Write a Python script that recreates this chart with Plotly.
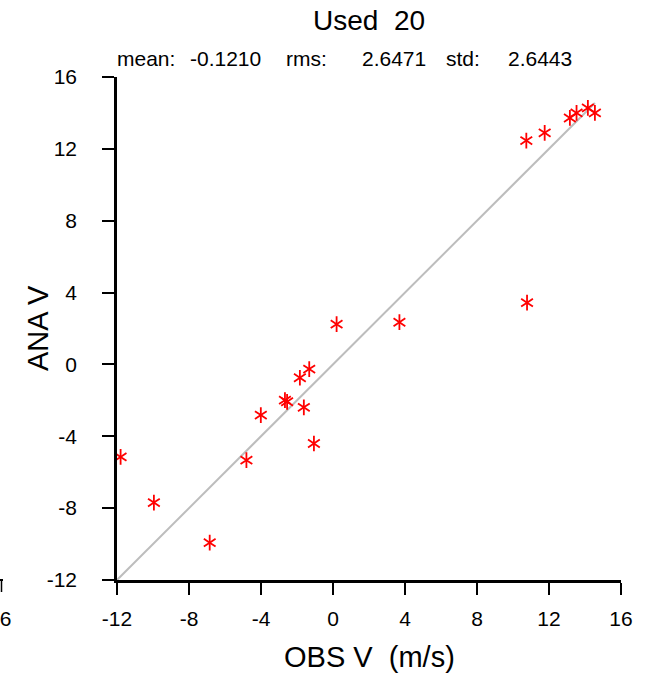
import plotly.graph_objects as go

# Data
obs_v = [10.74, 11.76, 13.16, 13.53, 14.16, 14.55, 0.2, 3.69, 10.78, -1.32,
         -1.84, -2.67, -2.55, -1.62, -4.01, -1.06, -11.8, -4.81, -9.95, -6.85]
ana_v = [12.46, 12.89, 13.72, 14.0, 14.28, 14.0, 2.24, 2.35, 3.44, -0.26,
         -0.74, -1.99, -2.08, -2.39, -2.82, -4.4, -5.15, -5.33, -7.69, -9.92]

tick_vals = [-12, -8, -4, 0, 4, 8, 12, 16]
tick_text = ["-12", "-8", "-4", "0", "4", "8", "12", "16"]
axis_range = [-12, 16]

title_text = "Used  20"
stat_labels = ["mean:", "-0.1210", "rms:", "2.6471", "std:", "2.6443"]
x_title = "OBS V  (m/s)"
y_title = "ANA V"

FONT = "Liberation Sans, Arial, Helvetica, sans-serif"
W, H = 645, 677
ML, MR, MT, MB = 117, 24, 77, 97
PW, PH = W - ML - MR, H - MT - MB


def px(x):
    return (x - ML) / PW


def py(y):
    return (H - MB - y) / PH


line_end = max(obs_v)
fig = go.Figure()
fig.add_trace(go.Scatter(
    x=[axis_range[0], line_end], y=[axis_range[0], line_end],
    mode="lines", line=dict(color="#bdbdbd", width=2),
    hoverinfo="skip", showlegend=False))
for sym in ["y-up-open", "y-down-open"]:
    fig.add_trace(go.Scatter(
        x=obs_v, y=ana_v, mode="markers",
        marker=dict(symbol=sym, size=9.8, color="#ff0000",
                    line=dict(color="#ff0000", width=1.8)),
        showlegend=False, cliponaxis=False))

axis_common = dict(
    range=axis_range, tickvals=tick_vals, ticktext=tick_text,
    showgrid=False, zeroline=False, showline=True, linecolor="black",
    linewidth=2.5, ticks="outside", ticklen=12, tickwidth=1.5,
    tickcolor="black", tickfont=dict(family=FONT, size=21, color="black"),
    mirror=False, fixedrange=True)

fig.update_layout(
    width=W, height=H,
    margin=dict(l=ML, r=MR, t=MT, b=MB, pad=0),
    paper_bgcolor="white", plot_bgcolor="white",
    xaxis=dict(**axis_common, ticklabelstandoff=6),
    yaxis=dict(**axis_common, ticklabelstandoff=21),
    showlegend=False,
)

ann = []
ann.append(dict(text=title_text, x=px(369), y=py(20), xref="paper", yref="paper",
                xanchor="center", yanchor="middle", showarrow=False,
                font=dict(family=FONT, size=28, color="black")))
stat_pos = [115, 188, 284, 360, 444, 506]
for t, xpos in zip(stat_labels, stat_pos):
    ann.append(dict(text=t, x=px(xpos), y=py(58), xref="paper", yref="paper",
                    xanchor="left", yanchor="middle", showarrow=False,
                    font=dict(family=FONT, size=21, color="black")))
ann.append(dict(text=x_title, x=px(369), y=py(657), xref="paper", yref="paper",
                xanchor="center", yanchor="middle", showarrow=False,
                font=dict(family=FONT, size=29, color="black")))
ann.append(dict(text=y_title, x=px(38), y=py(328), xref="paper", yref="paper",
                xanchor="center", yanchor="middle", showarrow=False, textangle=-90,
                font=dict(family=FONT, size=29, color="black")))
# clipped label from neighbouring panel at far left
ann.append(dict(text="16", x=px(-1), y=py(618), xref="paper", yref="paper",
                xanchor="center", yanchor="middle", showarrow=False,
                font=dict(family=FONT, size=21, color="black")))
fig.update_layout(annotations=ann)

fig.add_shape(type="line", xref="paper", yref="paper",
              x0=px(0), x1=px(3), y0=py(580), y1=py(580),
              line=dict(color="black", width=2))
fig.add_shape(type="line", xref="paper", yref="paper",
              x0=px(1.5), x1=px(1.5), y0=py(580), y1=py(592),
              line=dict(color="black", width=1.5))

fig.write_html("out.html", config={"displayModeBar": False},
               post_script="document.body.style.margin='0';document.body.style.padding='0';")
